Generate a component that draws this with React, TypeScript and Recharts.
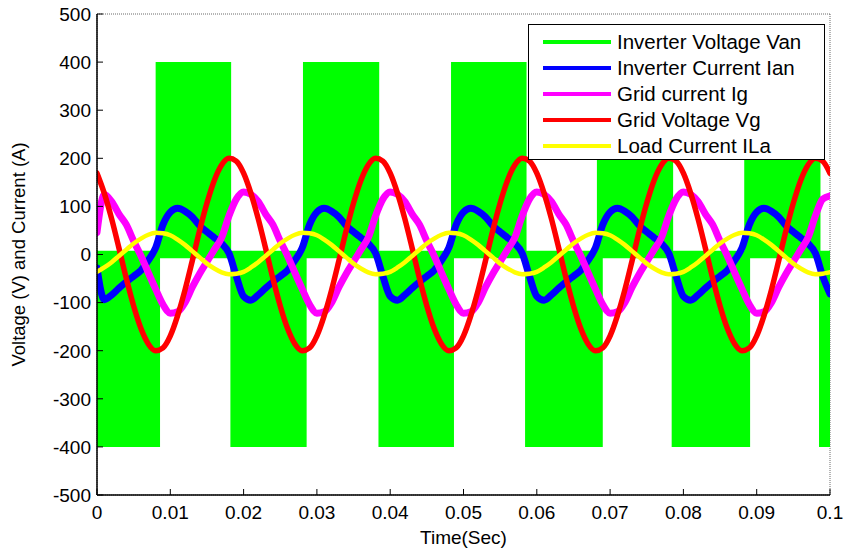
import React from 'react';
import { ComposedChart, Line, Area, XAxis, YAxis, CartesianGrid, Legend } from 'recharts';

// ---------- data ----------
const timeStep = 0.001; // sampling of the traces (s)

const gridVoltage = [
  169, 127, 74, 13, -50, -107, -154, -186, -200, -194, -169, -127, -74, -13, 50, 107, 154, 186, 200, 194,
  169, 127, 74, 13, -50, -107, -154, -186, -200, -194, -169, -127, -74, -13, 50, 107, 154, 186, 200, 194,
  169, 127, 74, 13, -50, -107, -154, -186, -200, -194, -169, -127, -74, -13, 50, 107, 154, 186, 200, 194,
  169, 127, 74, 13, -50, -107, -154, -186, -200, -194, -169, -127, -74, -13, 50, 107, 154, 186, 200, 194,
  169, 127, 74, 13, -50, -107, -154, -186, -200, -194, -169, -127, -74, -13, 50, 107, 154, 186, 200, 194,
  169,
];

const inverterCurrent = [
  -28, -94, -84, -70, -57, -45, -33, -12, 14, 62, 88, 96, 90, 78, 60, 47, 35, 23, 3, -45,
  -87, -95, -84, -70, -57, -45, -33, -12, 14, 62, 88, 96, 90, 78, 60, 47, 35, 23, 3, -45,
  -87, -95, -84, -70, -57, -45, -33, -12, 14, 62, 88, 96, 90, 78, 60, 47, 35, 23, 3, -45,
  -87, -95, -84, -70, -57, -45, -33, -12, 14, 62, 88, 96, 90, 78, 60, 47, 35, 23, 3, -45,
  -87, -95, -84, -70, -57, -45, -33, -12, 14, 62, 88, 96, 90, 78, 60, 47, 35, 23, 3, -45,
  -82,
];

const gridCurrent = [
  46, 125, 110, 84, 62, 28, -3, -38, -72, -104, -122, -119, -100, -68, -40, -15, 10, 35, 80, 115,
  130, 125, 110, 84, 62, 28, -3, -38, -72, -104, -122, -119, -100, -68, -40, -15, 10, 35, 80, 115,
  130, 125, 110, 84, 62, 28, -3, -38, -72, -104, -122, -119, -100, -68, -40, -15, 10, 35, 80, 115,
  130, 125, 110, 84, 62, 28, -3, -38, -72, -104, -122, -119, -100, -68, -40, -15, 10, 35, 80, 115,
  130, 125, 110, 84, 62, 28, -3, -38, -72, -104, -122, -119, -100, -68, -40, -15, 10, 35, 80, 115,
  122,
];

const loadCurrent = [
  -36, -27, -16, -3, 10, 23, 33, 41, 45, 44, 40, 31, 20, 7, -6, -19, -29, -37, -41, -40,
  -36, -27, -16, -3, 10, 23, 33, 41, 45, 44, 40, 31, 20, 7, -6, -19, -29, -37, -41, -40,
  -36, -27, -16, -3, 10, 23, 33, 41, 45, 44, 40, 31, 20, 7, -6, -19, -29, -37, -41, -40,
  -36, -27, -16, -3, 10, 23, 33, 41, 45, 44, 40, 31, 20, 7, -6, -19, -29, -37, -41, -40,
  -36, -27, -16, -3, 10, 23, 33, 41, 45, 44, 40, 31, 20, 7, -6, -19, -29, -37, -41, -40,
  -37,
];

// inverter voltage (PWM, appears as solid blocks)
const invPosStart = [0.008, 0.0281, 0.0483, 0.0682, 0.0883];
const invPosEnd = [0.0183, 0.0385, 0.0586, 0.0786, 0.0987];
const invNegStart = [0, 0.0182, 0.0384, 0.0584, 0.0784, 0.0985];
const invNegEnd = [0.0086, 0.0286, 0.0487, 0.069, 0.0891, 0.1];
const invHigh = 400;
const invLow = -400;
const invPosFloor = -8;
const invNegCeil = 8;

const timeTicks = [0, 0.01, 0.02, 0.03, 0.04, 0.05, 0.06, 0.07, 0.08, 0.09, 0.1];
const timeTickLabels = ['0', '0.01', '0.02', '0.03', '0.04', '0.05', '0.06', '0.07', '0.08', '0.09', '0.1'];
const valueTicks = [-500, -400, -300, -200, -100, 0, 100, 200, 300, 400, 500];

const seriesNames = [
  'Inverter Voltage Van',
  'Inverter Current Ian',
  'Grid current Ig',
  'Grid Voltage Vg',
  'Load Current ILa',
];
const seriesColors = ['#00ff00', '#0000ff', '#ff00ff', '#ff0000', '#ffff00'];

// ---------- tables for the library ----------
const lineData = gridVoltage.map((_, i) => ({
  t: Number((i * timeStep).toFixed(4)),
  vg: gridVoltage[i],
  ian: inverterCurrent[i],
  ig: gridCurrent[i],
  ila: loadCurrent[i],
}));

function buildBlocks(starts: number[], ends: number[], lo: number, hi: number) {
  const out: { t: number; v: number[] | null }[] = [];
  starts.forEach((s, i) => {
    out.push({ t: s, v: [lo, hi] });
    out.push({ t: ends[i], v: [lo, hi] });
    if (i < starts.length - 1) out.push({ t: (ends[i] + starts[i + 1]) / 2, v: null });
  });
  return out;
}
const posData = buildBlocks(invPosStart, invPosEnd, invPosFloor, invHigh);
const negData = buildBlocks(invNegStart, invNegEnd, invLow, invNegCeil);

// ---------- layout ----------
const W = 850;
const H = 549;
const PL = 97;
const PR = 830;
const PT = 14;
const PB = 495;
const FONT = '"Liberation Sans", Arial, Helvetica, sans-serif';

const XTick = (props: any) => {
  const { x, payload } = props;
  const i = timeTicks.indexOf(payload.value);
  return (
    <g>
      <line x1={x} x2={x} y1={PB} y2={PB - 6} stroke="#000" strokeWidth={1} />
      <text x={x} y={PB + 24} textAnchor="middle" fontSize={19} fontFamily={FONT} fill="#000">
        {i >= 0 ? timeTickLabels[i] : payload.value}
      </text>
    </g>
  );
};
const XTopTick = (props: any) => {
  const { x } = props;
  return <line x1={x} x2={x} y1={PT} y2={PT + 6} stroke="#000" strokeWidth={1} />;
};
const YTick = (props: any) => {
  const { y, payload } = props;
  return (
    <g>
      <line x1={PL} x2={PL + 6} y1={y} y2={y} stroke="#000" strokeWidth={1} />
      <text x={PL - 6} y={y} dy="0.36em" textAnchor="end" fontSize={19} fontFamily={FONT} fill="#000">
        {payload.value}
      </text>
    </g>
  );
};
const YRightTick = (props: any) => {
  const { y } = props;
  return <line x1={PR - 6} x2={PR} y1={y} y2={y} stroke="#000" strokeWidth={1} />;
};

const XTitle = () => (
  <text x={(PL + PR) / 2} y={537} textAnchor="middle" dominantBaseline="central" fontSize={19} fontFamily={FONT} fill="#000">
    Time(Sec)
  </text>
);
const YTitle = () => (
  <text
    x={18}
    y={(PT + PB) / 2}
    transform={`rotate(-90, 18, ${(PT + PB) / 2})`}
    textAnchor="middle"
    dominantBaseline="central"
    fontSize={18.5}
    fontFamily={FONT}
    fill="#000"
  >
    Voltage (V) and Current (A)
  </text>
);

const renderLegend = () => (
  <div
    style={{
      width: 297,
      height: 136,
      boxSizing: 'border-box',
      border: '1.5px solid #000',
      background: '#fff',
      position: 'relative',
      fontFamily: FONT,
    }}
  >
    {seriesNames.map((name, i) => (
      <div key={name} style={{ position: 'absolute', left: 0, top: 17 + 26 * i, height: 0 }}>
        <div
          style={{
            position: 'absolute',
            left: 14,
            top: -2,
            width: 68,
            height: 4,
            background: seriesColors[i],
          }}
        />
        <div
          style={{
            position: 'absolute',
            left: 88,
            top: -13,
            fontSize: 20.5,
            lineHeight: '26px',
            whiteSpace: 'nowrap',
            color: '#000',
          }}
        >
          {name}
        </div>
      </div>
    ))}
  </div>
);

export default function App() {
  return (
    <div style={{ position: 'absolute', left: 0, top: 0, width: W, height: H, background: '#fff' }}>
      <ComposedChart width={W} height={H} margin={{ top: PT, right: W - PR, bottom: 0, left: 0 }}>
        <CartesianGrid stroke="#6a6a6a" strokeDasharray="1 1" strokeWidth={1} />
        <XAxis
          xAxisId="b"
          dataKey="t"
          type="number"
          domain={[0, 0.1]}
          ticks={timeTicks}
          allowDataOverflow
          height={H - PB}
          tick={<XTick />}
          tickLine={false}
          axisLine={{ stroke: '#000', strokeWidth: 1.5 }}
          label={XTitle}
          interval={0}
        />
        <XAxis
          xAxisId="top"
          orientation="top"
          dataKey="t"
          type="number"
          domain={[0, 0.1]}
          ticks={timeTicks}
          allowDataOverflow
          height={0}
          tick={<XTopTick />}
          tickLine={false}
          axisLine={{ stroke: '#000', strokeWidth: 1.5 }}
          interval={0}
        />
        <YAxis
          yAxisId="l"
          type="number"
          domain={[-500, 500]}
          ticks={valueTicks}
          allowDataOverflow
          width={PL}
          tick={<YTick />}
          tickLine={false}
          axisLine={{ stroke: '#000', strokeWidth: 1.5 }}
          label={YTitle}
          interval={0}
        />
        <YAxis
          yAxisId="r"
          orientation="right"
          type="number"
          domain={[-500, 500]}
          ticks={valueTicks}
          allowDataOverflow
          width={0}
          tick={<YRightTick />}
          tickLine={false}
          axisLine={{ stroke: '#000', strokeWidth: 1.5 }}
          interval={0}
        />
        <Area
          xAxisId="b"
          yAxisId="l"
          data={posData}
          dataKey="v"
          name={seriesNames[0]}
          type="linear"
          fill={seriesColors[0]}
          fillOpacity={1}
          stroke="none"
          isAnimationActive={false}
          legendType="none"
        />
        <Area
          xAxisId="b"
          yAxisId="l"
          data={negData}
          dataKey="v"
          name={seriesNames[0]}
          type="linear"
          fill={seriesColors[0]}
          fillOpacity={1}
          stroke="none"
          isAnimationActive={false}
        />
        <Line
          xAxisId="b"
          yAxisId="l"
          data={lineData}
          dataKey="ian"
          name={seriesNames[1]}
          type="monotone"
          stroke={seriesColors[1]}
          strokeWidth={7}
          strokeLinejoin="round"
          strokeLinecap="round"
          dot={false}
          activeDot={false}
          isAnimationActive={false}
        />
        <Line
          xAxisId="b"
          yAxisId="l"
          data={lineData}
          dataKey="ig"
          name={seriesNames[2]}
          type="monotone"
          stroke={seriesColors[2]}
          strokeWidth={7}
          strokeLinejoin="round"
          strokeLinecap="round"
          dot={false}
          activeDot={false}
          isAnimationActive={false}
        />
        <Line
          xAxisId="b"
          yAxisId="l"
          data={lineData}
          dataKey="vg"
          name={seriesNames[3]}
          type="monotone"
          stroke={seriesColors[3]}
          strokeWidth={5.5}
          strokeLinejoin="round"
          strokeLinecap="round"
          dot={false}
          activeDot={false}
          isAnimationActive={false}
        />
        <Line
          xAxisId="b"
          yAxisId="l"
          data={lineData}
          dataKey="ila"
          name={seriesNames[4]}
          type="monotone"
          stroke={seriesColors[4]}
          strokeWidth={4.5}
          strokeLinejoin="round"
          strokeLinecap="round"
          dot={false}
          activeDot={false}
          isAnimationActive={false}
        />
        <Legend
          content={renderLegend}
          layout="vertical"
          align="center"
          verticalAlign="middle"
          wrapperStyle={{ left: 528, top: 24, width: 297, height: 136 }}
        />
      </ComposedChart>
    </div>
  );
}
